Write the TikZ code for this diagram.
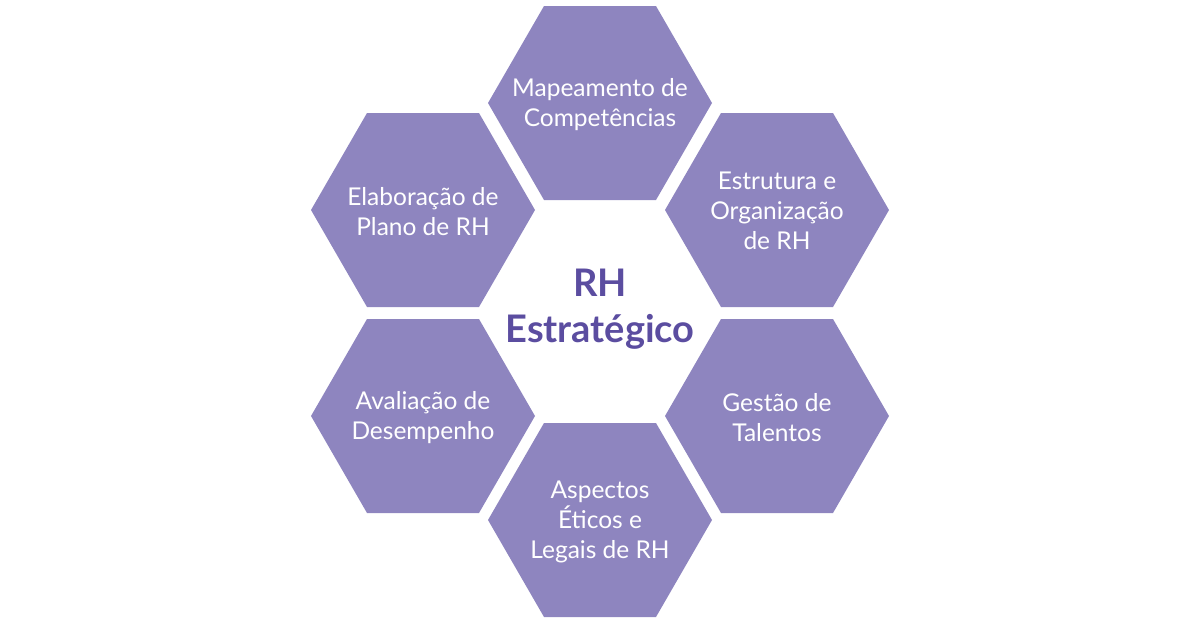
\documentclass[tikz,border=0pt]{standalone}
\usepackage{fontspec}
\setmainfont{Lato}
\begin{document}
\begin{tikzpicture}[x=1pt,y=-1pt,
  hexfill/.style={fill=hexc,draw=none},
  lbl/.style={text=white,align=center,font=\fontsize{24.5}{30}\selectfont}]
\definecolor{hexc}{HTML}{8E85BF}
\definecolor{ctr}{HTML}{5B4DA0}
\useasboundingbox (0,0) rectangle (1200,627);
\foreach \cx/\cy/\nm in {600/103/a,777/210/b,777/416/c,600/520/d,423/416/e,423/210/f}{
  \fill[hexc] (\cx-112,\cy) -- (\cx-56,\cy-97) -- (\cx+56,\cy-97) -- (\cx+112,\cy) -- (\cx+56,\cy+97) -- (\cx-56,\cy+97) -- cycle;
}
\node[lbl] (a) at (600,105) {Mapeamento de\\Competências};
\node[lbl] (b) at (777,211) {Estrutura e\\Organização\\de RH};
\node[lbl] (c) at (777,418) {Gestão de\\Talentos};
\node[lbl] (d) at (600,522) {Aspectos\\Éticos e\\Legais de RH};
\node[lbl] (e) at (423,418) {Avaliação de\\Desempenho};
\node[lbl] (f) at (423,212) {Elaboração de\\Plano de RH};
\node[text=ctr,align=center,font=\bfseries\fontsize{38}{46}\selectfont] (m) at (600,309) {RH\\Estratégico};
\end{tikzpicture}
\end{document}
